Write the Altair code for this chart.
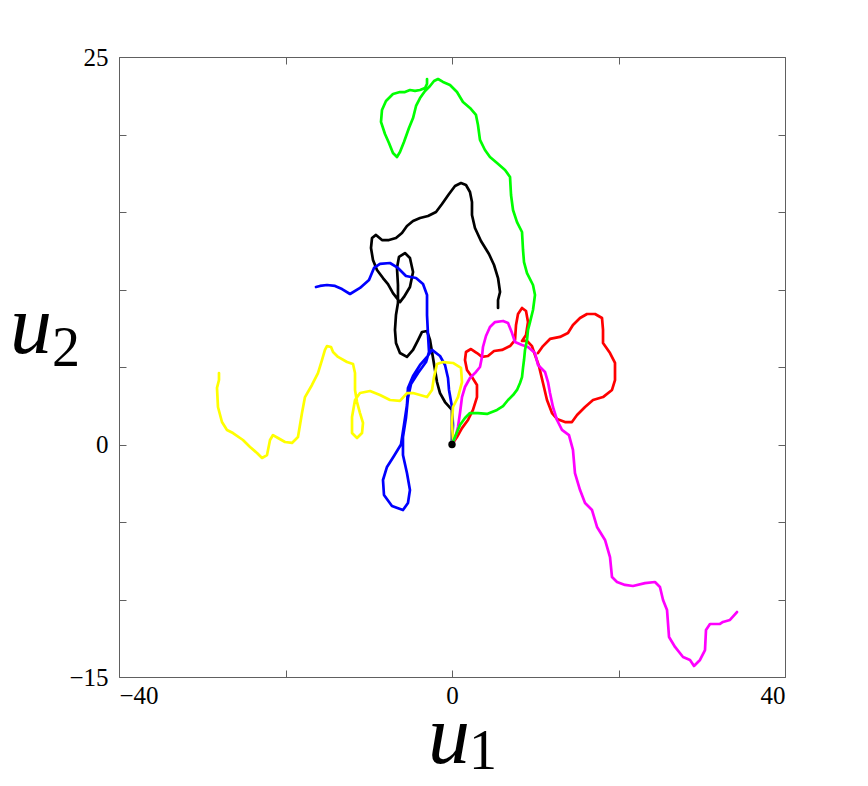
import altair as alt
import pandas as pd

# ---- path data (u1, u2) ----
black_x = [0, 0, 0, -0.84, -1.44, -1.80, -2.04, -2.40, -2.64, -3.00, -3.60, -4.08, -4.68, -5.41, -6.25, -6.73,
           -6.85, -6.73, -6.49, -6.49, -6.61, -6.37, -5.65, -5.05, -4.68, -5.05, -5.77, -6.25, -7.09, -7.69,
           -8.29, -9.01, -9.49, -9.73, -9.61, -9.13, -8.41, -7.57, -6.73, -6.01, -5.41, -4.68, -3.84, -2.88,
           -1.92, -1.20, -0.36, 0.36, 1.08, 1.68, 2.16, 2.40, 2.40, 2.76, 3.48, 4.44, 5.05, 5.53, 5.77, 5.53, 5.53]
black_y = [0, 1.26, 2.23, 2.74, 3.32, 4.03, 4.81, 5.97, 6.74, 7.32, 7.26, 6.74, 6.10, 5.65, 5.90, 6.55,
           7.39, 8.35, 9.13, 10.29, 11.39, 12.10, 12.35, 12.03, 11.13, 10.16, 9.52, 9.19, 9.77, 10.35,
           10.74, 11.26, 11.90, 12.68, 13.32, 13.52, 13.19, 13.19, 13.32, 13.65, 14.10, 14.42, 14.61, 14.74,
           15.00, 15.52, 16.16, 16.68, 16.87, 16.74, 16.29, 15.65, 14.81, 13.97, 13.13, 12.29, 11.58, 10.74, 9.84, 9.32, 8.81]

blue_x = [0, 0.12, 0, -0.36, -0.48, -0.84, -1.44, -2.40, -3.00, -3.84, -4.68, -5.29, -5.41, -5.77, -6.13,
          -6.97, -7.81, -8.29, -8.17, -7.21, -5.89, -5.29, -5.05, -5.41, -5.89, -5.89, -5.53, -5.29, -4.92,
          -4.08, -3.12, -2.76, -2.88, -3.00, -3.00, -3.48, -4.32, -5.53, -6.49, -7.45, -8.65, -9.37, -9.97,
          -11.05, -12.25, -13.21, -14.05, -15.02, -15.86, -16.34]
blue_y = [0, 1.26, 2.42, 3.52, 4.29, 5.13, 5.71, 6.10, 5.65, 5.13, 4.42, 3.65, 2.55, 1.26, 0,
          -0.74, -1.45, -2.29, -3.26, -3.97, -4.23, -3.77, -2.94, -1.84, -0.68, 0.48, 1.71, 3.00, 3.90,
          4.61, 5.32, 5.97, 7.06, 8.35, 9.65, 10.35, 10.74, 10.87, 11.39, 11.71, 11.65, 11.39, 10.61,
          10.10, 9.71, 10.03, 10.23, 10.29, 10.23, 10.16]

yellow_x = [0, 0.12, 0, 0.12, 0.72, 1.20, 1.08, 0.12, -1.08, -1.80, -2.16, -2.40, -3.00, -3.84, -4.68,
            -5.41, -6.25, -7.45, -8.65, -9.85, -11.05, -11.65, -12.01, -12.01, -11.41, -10.81, -10.69,
            -11.05, -11.41, -11.65, -11.65, -11.89, -12.61, -13.69, -14.29, -14.53, -15.02, -15.26, -15.62,
            -16.10, -16.82, -17.66, -18.02, -18.50, -19.22, -20.06, -20.90, -21.50, -21.86, -22.22, -22.82,
            -23.42, -24.26, -25.11, -26.31, -27.03, -27.63, -28.11, -28.23, -27.99, -27.99]
yellow_y = [0, 0.29, 1.39, 2.42, 3.06, 4.03, 4.94, 5.26, 5.32, 5.19, 4.35, 3.52, 3.06, 3.19, 3.32,
            3.32, 2.81, 2.87, 3.19, 3.45, 3.32, 2.87, 1.77, 0.74, 0.42, 0.74, 1.39,
            2.03, 2.74, 3.52, 4.61, 5.19, 5.32, 5.65, 5.97, 6.29, 6.35, 6.10, 5.45,
            4.61, 3.84, 3.06, 2.03, 0.48, 0.10, 0.16, 0.42, 0.61, 0.29, -0.68, -0.87,
            -0.55, -0.16, 0.29, 0.74, 0.94, 1.45, 2.42, 3.65, 4.16, 4.61]

red_x = [0, 0.60, 1.20, 1.92, 2.52, 3.00, 3.00, 2.40, 1.80, 1.56, 1.68, 2.28, 3.00, 3.60, 4.32, 5.05,
         6.01, 6.97, 7.57, 7.69, 7.93, 8.41, 8.89, 9.13, 8.89, 8.41, 9.01, 9.61, 9.97, 10.45, 10.93,
         11.41, 12.01, 12.61, 13.57, 14.41, 15.02, 15.98, 16.94, 18.14, 19.22, 19.58, 19.58, 18.98,
         18.14, 18.14, 18.02, 17.18, 16.22, 15.38, 14.53, 13.93, 12.97, 11.77, 10.93, 10.33]
red_y = [0, 0.48, 1.06, 1.58, 2.23, 3.06, 3.84, 4.35, 4.81, 5.45, 5.97, 6.16, 5.90, 5.65, 5.71, 6.03,
         6.10, 6.35, 6.74, 7.71, 8.42, 8.81, 8.61, 7.90, 7.06, 6.68, 6.68, 6.35, 5.77, 5.06, 3.97,
         2.87, 2.03, 1.65, 1.45, 1.45, 1.90, 2.42, 2.87, 3.06, 3.52, 4.16, 5.26, 5.90,
         6.55, 7.39, 8.16, 8.42, 8.42, 8.16, 7.71, 7.19, 6.94, 6.81, 6.35, 5.90]

magenta_x = [0, 0.36, 0.72, 0.96, 1.20, 1.56, 2.16, 2.76, 3.36, 3.60, 3.72, 4.08, 4.56, 5.17, 6.13, 6.73,
             7.21, 7.57, 8.41, 9.13, 9.97, 10.33, 11.17, 11.53, 11.77, 12.13, 12.61, 13.21, 14.05, 14.53,
             14.77, 15.38, 15.98, 16.82, 17.42, 18.38, 18.98, 19.22, 19.82, 20.78, 21.74, 23.18, 24.38,
             24.98, 25.35, 25.83, 26.07, 26.79, 27.75, 28.59, 29.07, 29.79, 30.39, 30.51, 30.99, 32.19,
             32.55, 33.39, 34.23]
magenta_y = [0, 0.42, 1.13, 2.03, 3.06, 3.71, 4.29, 4.61, 5.00, 5.65, 6.29, 7.00, 7.58, 7.90, 7.97, 7.84,
             7.19, 6.61, 6.42, 6.29, 5.90, 5.13, 4.68, 4.03, 3.32, 2.42, 1.58, 0.94, 0.61, -0.35,
             -1.84, -2.94, -3.77, -4.23, -5.32, -6.16, -7.26, -8.55, -8.87, -9.06, -9.13, -8.94, -8.87,
             -9.19, -10.03, -10.68, -12.42, -13.06, -13.71, -13.90, -14.29, -13.90, -13.26, -11.97, -11.58,
             -11.58, -11.45, -11.32, -10.81]

green_x = [0, 0.36, 0.96, 1.56, 2.16, 3.12, 4.20, 5.41, 6.13, 6.73, 7.33, 7.81, 8.17, 8.41, 8.53, 8.65,
           8.77, 9.01, 9.13, 9.37, 9.73, 9.97, 9.73, 9.01, 8.65, 8.53, 8.41, 7.81, 7.33, 7.09, 6.97, 6.37,
           5.41, 4.56, 3.96, 3.36, 3.12, 2.88, 2.16, 1.32, 0.60, -0.24, -1.08, -1.68, -2.16, -2.64, -3.24,
           -3.84, -4.32, -4.68, -5.17, -5.77, -6.25, -6.61, -7.09, -7.57, -8.05, -8.53, -8.41, -7.93,
           -7.09, -6.25, -5.65, -5.05, -4.44, -3.84, -3.24, -3.00, -3.00]
green_y = [0, 0.48, 1.26, 1.71, 2.03, 2.03, 1.97, 2.23, 2.48, 2.87, 3.19, 3.52, 3.97, 4.35, 4.94, 5.45,
           6.10, 6.74, 7.39, 7.90, 8.68, 9.65, 10.29, 11.06, 11.77, 12.55, 13.71, 14.35, 15.13, 16.10, 17.26, 17.71,
           18.16, 18.55, 19.00, 19.65, 20.61, 21.26, 21.71, 22.10, 22.74, 23.19, 23.39, 23.58, 23.45, 23.13, 22.81,
           22.35, 21.84, 21.06, 20.42, 19.52, 18.87, 18.55, 18.81, 19.45, 20.03, 20.81, 21.58, 22.16,
           22.61, 22.74, 22.74, 22.87, 22.81, 22.87, 23.00, 23.26, 23.58]

origin_x = [0]
origin_y = [0]

x_ticks = [-40, -20, 0, 20, 40]
y_ticks = [-15, -10, -5, 0, 5, 10, 15, 20, 25]
x_labelled = [-40, 0, 40]
y_labelled = [-15, 0, 25]

paths = [
    (black_x, black_y, "#000000"),
    (blue_x, blue_y, "#0000ff"),
    (yellow_x, yellow_y, "#ffff00"),
    (red_x, red_y, "#ff0000"),
    (magenta_x, magenta_y, "#ff00ff"),
    (green_x, green_y, "#00ff00"),
]

FONT = "Liberation Serif"
AX = "#606060"
W, H = 666, 620

xscale = alt.Scale(domain=[-40, 40], nice=False, zero=False)
yscale = alt.Scale(domain=[-15, 25], nice=False, zero=False)


def lab_expr(vals):
    cond = " || ".join(f"datum.value == {v}" for v in vals)
    return f"({cond}) ? datum.label : ''"


axis_common = dict(domain=False, grid=False, ticks=True, tickSize=7, offset=-7,
                   tickColor=AX, tickWidth=1, title=None)

x_bottom = alt.Axis(orient="bottom", values=x_ticks, labelExpr=lab_expr(x_labelled),
                    labelFont=FONT, labelFontSize=25, labelColor="#000", labelPadding=6,
                    labelOverlap=False, **axis_common)
y_left = alt.Axis(orient="left", values=y_ticks, labelExpr=lab_expr(y_labelled),
                  labelFont=FONT, labelFontSize=25, labelColor="#000", labelPadding=11,
                  labelOverlap=False, **axis_common)
x_top = alt.Axis(orient="top", values=x_ticks, labels=False, **axis_common)
y_right = alt.Axis(orient="right", values=y_ticks, labels=False, **axis_common)

layers = []
for i, (xs, ys, col) in enumerate(paths):
    df = pd.DataFrame({"u1": xs, "u2": ys, "k": list(range(len(xs)))})
    layers.append(
        alt.Chart(df).mark_line(color=col, strokeWidth=2.7, strokeJoin="round", strokeCap="round").encode(
            x=alt.X("u1:Q", scale=xscale, axis=x_bottom if i == 0 else None),
            y=alt.Y("u2:Q", scale=yscale, axis=y_left if i == 0 else None),
            order="k:Q",
        )
    )

dot = alt.Chart(pd.DataFrame({"u1": origin_x, "u2": origin_y})).mark_circle(
    color="#000000", opacity=1, size=55
).encode(
    x=alt.X("u1:Q", scale=xscale, axis=x_top),
    y=alt.Y("u2:Q", scale=yscale, axis=y_right),
)


def txt(s, x, y, size, italic):
    kw = dict(font=FONT, fontSize=size, align="center", baseline="alphabetic", color="#000")
    if italic:
        kw["fontStyle"] = "italic"
    return alt.Chart(pd.DataFrame({"t": [s]})).mark_text(**kw).encode(
        x=alt.value(x), y=alt.value(y), text="t:N"
    )


titles = [
    txt("u", 330, 706, 84, True),
    txt("1", 364, 712, 56, False),
    txt("u", -88, 296, 84, True),
    txt("2", -53, 309, 56, False),
]

chart = alt.layer(*layers, dot, *titles).resolve_axis(
    x="independent", y="independent"
).properties(
    width=W, height=H,
    autosize=alt.AutoSizeParams(type="none"),
    padding={"left": 111, "top": 49, "right": 40, "bottom": 101},
    background="white",
).configure_view(stroke=AX, strokeWidth=1)

chart.save("out.html", embed_options={"renderer": "svg", "actions": False})
